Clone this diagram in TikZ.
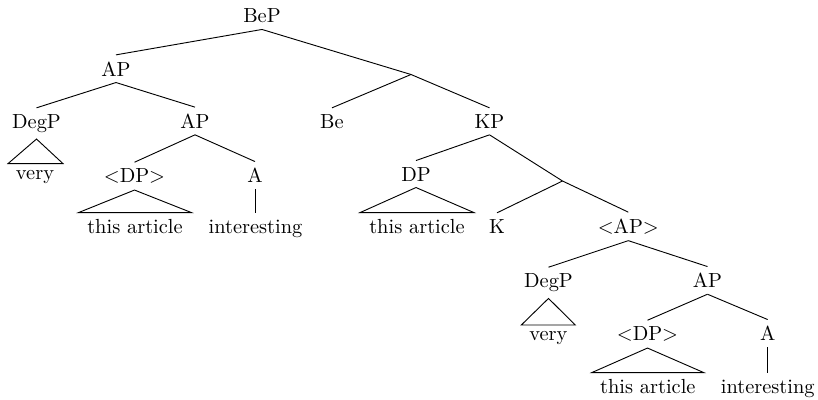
\documentclass[tikz,border=0pt]{standalone}
\usetikzlibrary{calc}
\begin{document}
\begin{tikzpicture}[x=0.49pt,y=-0.49pt,
  tn/.style={anchor=base,inner xsep=0pt,inner ysep=3pt},
  edge/.style={line width=0.45pt}]
\useasboundingbox (0,0) rectangle (818,400);
% nodes (x centre, baseline y)
\node[tn] (bep) at (262,22.7) {BeP};
\node[tn] (ap1) at (116,76) {AP};
\node[tn] (degp1) at (36.5,128.3) {DegP};
\node[tn] (ap2) at (195,128.3) {AP};
\node[tn] (be) at (332,128.3) {Be};
\node[tn] (kp) at (489.5,128.3) {KP};
\node[tn] (very1) at (35,179.3) {very};
\node[tn] (dp1) at (134.5,182.7) {<DP>};
\node[tn] (a1) at (255,182.7) {A};
\node[tn] (dp2) at (416,181) {DP};
\node[tn] (art1) at (135,233.3) {this article};
\node[tn] (int1) at (255.5,233.3) {interesting};
\node[tn] (art2) at (417,233.3) {this article};
\node[tn] (k) at (497,233.3) {K};
\node[tn] (ap3) at (628.3,233.3) {<AP>};
\node[tn] (degp2) at (548.5,287.7) {DegP};
\node[tn] (ap4) at (707.5,287.7) {AP};
\node[tn] (very2) at (548.3,340.7) {very};
\node[tn] (dp3) at (647.5,340.7) {<DP>};
\node[tn] (a2) at (767.7,340.7) {A};
\node[tn] (art3) at (647.8,393.3) {this article};
\node[tn] (int2) at (767.8,393.3) {interesting};
\coordinate (j1) at (411,74.5);
\coordinate (j2) at (562.5,181);
% connectors
\draw[edge] (bep.south) -- (ap1.north);
\draw[edge] (bep.south) -- (j1);
\draw[edge] (j1) -- (be.north);
\draw[edge] (j1) -- (kp.north);
\draw[edge] (ap1.south) -- (degp1.north);
\draw[edge] (ap1.south) -- (ap2.north);
\draw[edge] (degp1.south) -- ($(very1.north)+(-27,0)$) -- ($(very1.north)+(28,0)$) -- cycle;
\draw[edge] (ap2.south) -- (dp1.north);
\draw[edge] (ap2.south) -- (a1.north);
\draw[edge] (dp1.south) -- ($(art1.north)+(-56.5,0)$) -- ($(art1.north)+(56.5,0)$) -- cycle;
\draw[edge] (a1.south) -- (int1.north -| a1.south);
\draw[edge] (kp.south) -- (dp2.north);
\draw[edge] (kp.south) -- (j2);
\draw[edge] (dp2.south) -- ($(art2.north)+(-57,0)$) -- ($(art2.north)+(57,0)$) -- cycle;
\draw[edge] (j2) -- (k.north);
\draw[edge] (j2) -- (ap3.north);
\draw[edge] (ap3.south) -- (degp2.north);
\draw[edge] (ap3.south) -- (ap4.north);
\draw[edge] (degp2.south) -- ($(very2.north)+(-27,0)$) -- ($(very2.north)+(27,0)$) -- cycle;
\draw[edge] (ap4.south) -- (dp3.north);
\draw[edge] (ap4.south) -- (a2.north);
\draw[edge] (dp3.south) -- ($(art3.north)+(-56,0)$) -- ($(art3.north)+(56,0)$) -- cycle;
\draw[edge] (a2.south) -- (int2.north -| a2.south);
\end{tikzpicture}
\end{document}
